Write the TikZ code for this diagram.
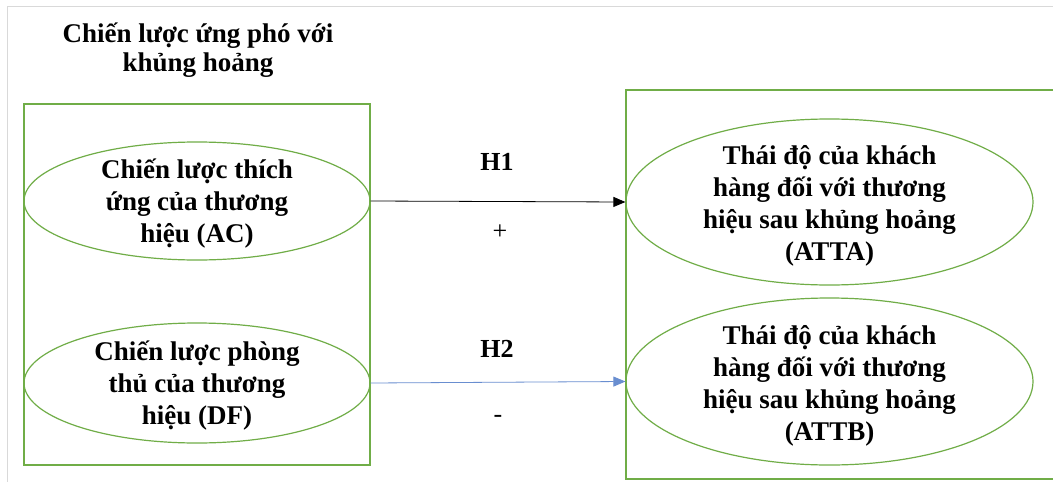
\documentclass[tikz,border=0pt]{standalone}
\usepackage{fontspec}
\setmainfont{Liberation Serif}
\usetikzlibrary{shapes.geometric,arrows.meta}
\definecolor{boxgreen}{HTML}{70AD47}
\definecolor{linkblue}{HTML}{4472C4}
\definecolor{edgegray}{HTML}{D9D9D9}
\tikzset{
  frame/.style={draw=boxgreen, line width=1.4pt},
  oval/.style={ellipse, draw=boxgreen, line width=1.2pt, inner sep=0pt},
  txt/.style={align=center, font=\bfseries\fontsize{27}{32}\selectfont, inner sep=0pt},
  hyp/.style={font=\bfseries\fontsize{26}{28}\selectfont, inner sep=0pt},
  sign/.style={font=\fontsize{26}{28}\selectfont, inner sep=0pt},
  link/.style={line width=0.8pt, -{Triangle[length=12pt,width=10pt]}}
}
\begin{document}
\begin{tikzpicture}[x=1pt,y=-1pt]
\useasboundingbox (0,0) rectangle (1053,482);
\fill[white] (0,0) rectangle (1053,482);
% faint page edge
\draw[edgegray, line width=0.8pt] (7,482) -- (7,6) -- (1053,6);

% title of the left group
\node[txt, font=\bfseries\fontsize{27}{29.5}\selectfont] (title) at (198,50)
  {Chiến lược ứng phó với\\khủng hoảng};

% left group frame
\draw[frame] (24,104) rectangle (370,465);
% right group frame (runs past the right edge)
\draw[frame] (1056,90) -- (626,90) -- (626,479) -- (1056,479);

% independent variables
\node[oval, minimum width=346pt, minimum height=118pt] (ac) at (197,201) {};
\node[txt] (acT) at ([yshift=-3pt]ac.center) {Chiến lược thích\\ứng của thương\\hiệu (AC)};
\node[oval, minimum width=346pt, minimum height=120pt] (df) at (197,383) {};
\node[txt] (dfT) at ([yshift=-3pt]df.center) {Chiến lược phòng\\thủ của thương\\hiệu (DF)};

% dependent variables
\node[oval, minimum width=407pt, minimum height=166pt] (atta) at (829.5,202) {};
\node[txt] (attaT) at ([yshift=-4pt]atta.center) {Thái độ của khách\\hàng đối với thương\\hiệu sau khủng hoảng\\(ATTA)};
\node[oval, minimum width=407pt, minimum height=167pt] (attb) at (829.5,381.5) {};
\node[txt] (attbT) at ([yshift=-4pt]attb.center) {Thái độ của khách\\hàng đối với thương\\hiệu sau khủng hoảng\\(ATTB)};

% hypotheses
\draw[link, black] (ac.east) -- (atta.west);
\draw[link, linkblue, draw=linkblue!80] (df.east) -- (attb.west);

\node[hyp] (h1) at (497,162) {H1};
\node[sign] (plus) at (500,232) {+};
\node[hyp] (h2) at (497,349) {H2};
\node[sign] (minus) at (498,419) {-};
\end{tikzpicture}
\end{document}
